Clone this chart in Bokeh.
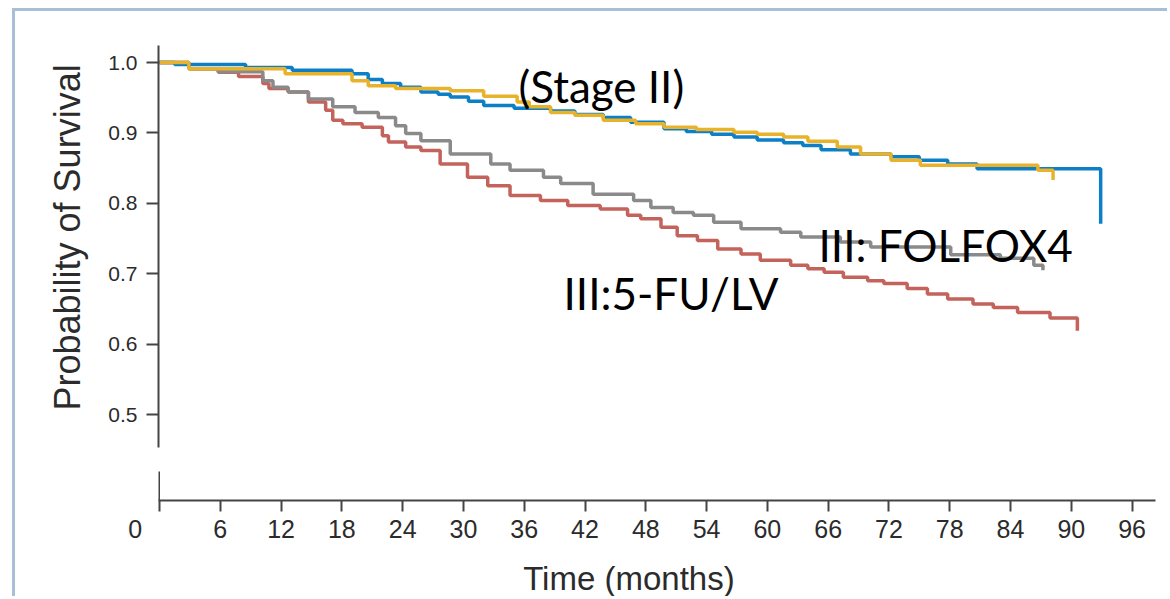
from bokeh.plotting import figure
from bokeh.models import Range1d, FixedTicker, Label, Title
from bokeh.embed import file_html
from bokeh.resources import INLINE

# ---------------- data ----------------
x_ticks = [0, 6, 12, 18, 24, 30, 36, 42, 48, 54, 60, 66, 72, 78, 84, 90, 96]
x_tick_labels = ["0", "6", "12", "18", "24", "30", "36", "42", "48", "54", "60", "66", "72",
                 "78", "84", "90", "96"]
y_ticks = [0.5, 0.6, 0.7, 0.8, 0.9, 1.0]
y_tick_labels = ["0.5", "0.6", "0.7", "0.8", "0.9", "1.0"]

stage2_folfox_t = [0, 1.5, 8.5, 13.1, 19.0, 20.6, 22.0, 23.8, 25.8, 27.5, 28.7, 30.5, 32.0, 35.0,
                   38.6, 41.0, 43.8, 46.5, 49.8, 52.0, 54.5, 56.7, 59.0, 61.6, 63.5, 65.3, 68.2,
                   72.2, 75.0, 77.8, 80.7, 92.9]
stage2_folfox_s = [1.0, 0.997, 0.993, 0.989, 0.984, 0.976, 0.970, 0.965, 0.958, 0.955, 0.951, 0.945,
                   0.939, 0.935, 0.931, 0.926, 0.922, 0.915, 0.906, 0.902, 0.898, 0.894, 0.890, 0.886,
                   0.882, 0.876, 0.870, 0.866, 0.861, 0.856, 0.849, 0.771]

stage2_fu_t = [0, 2.9, 12.4, 19.0, 20.6, 23.3, 28.7, 32.0, 35.3, 36.5, 38.6, 41.0, 43.8, 47.0,
               49.8, 53.0, 56.7, 59.0, 61.6, 64.0, 66.9, 69.2, 72.2, 75.1, 86.7, 88.2]
stage2_fu_s = [1.0, 0.991, 0.984, 0.974, 0.967, 0.963, 0.960, 0.952, 0.944, 0.937, 0.929, 0.925,
               0.918, 0.913, 0.908, 0.905, 0.901, 0.898, 0.894, 0.888, 0.880, 0.870, 0.861, 0.854,
               0.847, 0.833]

stage3_folfox_t = [0, 2.9, 5.8, 10.2, 11.2, 12.7, 14.7, 17.1, 19.3, 21.6, 23.3, 24.3, 25.8, 28.7,
                   32.7, 34.6, 37.9, 39.6, 42.8, 46.8, 48.5, 50.7, 52.7, 54.7, 57.4, 61.3, 63.3,
                   67.2, 70.2, 78.1, 83.0, 86.3, 87.2]
stage3_folfox_s = [1.0, 0.991, 0.987, 0.974, 0.965, 0.958, 0.948, 0.937, 0.929, 0.922, 0.910, 0.899,
                   0.889, 0.870, 0.856, 0.847, 0.837, 0.828, 0.813, 0.804, 0.794, 0.787, 0.783,
                   0.773, 0.764, 0.759, 0.752, 0.745, 0.738, 0.727, 0.722, 0.712, 0.705]

stage3_fu_t = [0, 2.9, 5.8, 7.8, 10.2, 10.8, 12.7, 14.7, 16.4, 17.1, 18.1, 20.0, 22.0, 22.6, 24.3,
               25.8, 27.7, 30.4, 32.4, 34.6, 37.6, 40.3, 43.5, 46.2, 47.5, 49.5, 51.1, 53.1, 55.1,
               57.4, 59.3, 62.3, 64.0, 65.6, 67.5, 69.9, 71.5, 73.8, 75.8, 77.8, 80.3, 82.3, 84.7,
               87.9, 90.6]
stage3_fu_s = [1.0, 0.991, 0.986, 0.980, 0.970, 0.963, 0.958, 0.944, 0.932, 0.918, 0.913, 0.908,
               0.896, 0.887, 0.880, 0.875, 0.856, 0.837, 0.825, 0.811, 0.804, 0.797, 0.792, 0.783,
               0.778, 0.766, 0.754, 0.747, 0.735, 0.728, 0.719, 0.712, 0.707, 0.702, 0.695, 0.690,
               0.686, 0.679, 0.671, 0.664, 0.657, 0.652, 0.645, 0.637, 0.619]

# ---------------- layout (page pixels) ----------------
PAGE_W, PAGE_H = 1170, 599
OX, OY = 15, 11                               # canvas origin inside the slide frame
W, H = PAGE_W - OX, PAGE_H - OY
FL, FR, FT, FB = 158, 1163, 45, 500          # frame edges, page px
PXM = 10.131                                  # px per month
PXS = 704.0                                   # px per unit survival
X0_PX, Y1_PX = 159, 62                        # page px of t=0 and S=1.0

def dx(px):
    return (px - X0_PX) / PXM

def dy(py):
    return 1.0 - (py - Y1_PX) / PXS

frame_col = "#a8bfd8"
p = figure(width=W, height=H, output_backend="svg", toolbar_location=None,
           x_range=Range1d(dx(FL), dx(FR)), y_range=Range1d(dy(FB), dy(FT)),
           min_border_left=FL - OX, min_border_right=PAGE_W - FR, min_border_top=FT - OY,
           min_border_bottom=PAGE_H - FB,
           styles={"margin-left": "12px", "margin-top": "8px",
                   "border-left": f"3px solid {frame_col}",
                   "border-top": f"3px solid {frame_col}"})
p.outline_line_color = None
p.grid.grid_line_color = None
p.background_fill_color = "white"
p.border_fill_color = "white"

axis_col = "#444444"
lab_col = "#2b2b2b"
font = "Liberation Sans"
NBSP = "\u00a0"

# x axis ("0" sits left of the corner in the original: pad it so it is drawn there)
x_overrides = {t: l for t, l in zip(x_ticks, x_tick_labels)}
x_overrides[0] = x_overrides[0] + NBSP * 7
p.xaxis.ticker = FixedTicker(ticks=x_ticks)
p.xaxis.major_label_overrides = x_overrides
p.xaxis.bounds = (dx(FL), dx(1155))
p.xaxis.axis_line_color = axis_col
p.xaxis.axis_line_width = 2
p.xaxis.major_tick_line_color = axis_col
p.xaxis.major_tick_line_width = 2
p.xaxis.major_tick_out = 11
p.xaxis.major_tick_in = 0
p.xaxis.minor_tick_line_color = None
p.xaxis.major_label_standoff = 3
p.xaxis.major_label_text_font = font
p.xaxis.major_label_text_font_size = "25px"
p.xaxis.major_label_text_color = lab_col
# title sits a little left of the axis centre in the original
p.xaxis.axis_label = "Time (months)" + NBSP * 7
p.xaxis.axis_label_text_font = font
p.xaxis.axis_label_text_font_size = "33px"
p.xaxis.axis_label_text_font_style = "normal"
p.xaxis.axis_label_text_color = lab_col
p.xaxis.axis_label_standoff = 14

# y axis
p.yaxis.ticker = FixedTicker(ticks=y_ticks)
p.yaxis.major_label_overrides = {t: l for t, l in zip(y_ticks, y_tick_labels)}
p.yaxis.bounds = (dy(447), dy(FT))
p.yaxis.axis_line_color = axis_col
p.yaxis.axis_line_width = 2
p.yaxis.major_tick_line_color = axis_col
p.yaxis.major_tick_line_width = 2
p.yaxis.major_tick_out = 12
p.yaxis.major_tick_in = 0
p.yaxis.minor_tick_line_color = None
p.yaxis.major_label_standoff = 9
p.yaxis.major_label_text_font = font
p.yaxis.major_label_text_font_size = "21px"
p.yaxis.major_label_text_color = lab_col

# y-axis title (positioned as in the original)
p.add_layout(Title(text="Probability of Survival", align="left", offset=90, standoff=36,
                   text_font=font, text_font_size="36px", text_font_style="normal",
                   text_color=lab_col), "left")

# lower stub of the broken y axis
p.segment(x0=[dx(158.5)], y0=[dy(471)], x1=[dx(158.5)], y1=[dy(FB)],
          line_color=axis_col, line_width=2)

# curves
p.step(stage3_fu_t, stage3_fu_s, mode="after", line_color="#c4625c", line_width=3.5)
p.step(stage3_folfox_t, stage3_folfox_s, mode="after", line_color="#8a8a8a", line_width=3.5)
p.step(stage2_folfox_t, stage2_folfox_s, mode="after", line_color="#0d7fc6", line_width=3.5)
p.step(stage2_fu_t, stage2_fu_s, mode="after", line_color="#e8b32a", line_width=3.5)

# curve annotations
ann_font = "Lato"
for txt, xpx, ypx in [("(Stage II)", 518, 85), ("III: FOLFOX4", 818, 244), ("III:5-FU/LV", 563, 292)]:
    p.add_layout(Label(x=dx(xpx), y=dy(ypx), text=txt, text_align="left",
                       text_baseline="alphabetic", text_font=ann_font,
                       text_font_size="44px", text_color="black"))

open("out.html", "w").write(file_html(p, INLINE))
